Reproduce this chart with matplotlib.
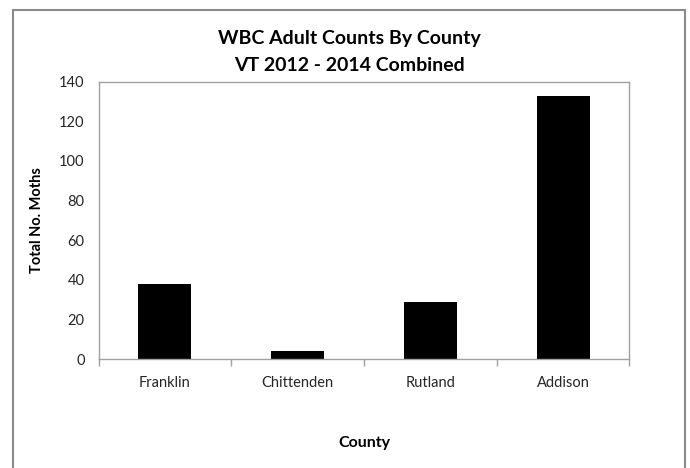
import matplotlib.pyplot as plt
from matplotlib.patches import Rectangle

counties = ['Franklin', 'Chittenden', 'Rutland', 'Addison']
moths = [38, 4, 29, 133]
y_ticks = [0, 20, 40, 60, 80, 100, 120, 140]

plt.rcParams['font.family'] = ['Lato', 'DejaVu Sans']

fig = plt.figure(figsize=(6.9, 4.68), dpi=100)
ax = fig.add_axes([0.1428, 0.2329, 0.7694, 0.5925])

x = range(len(counties))
ax.bar(x, moths, width=0.4, color='black')

ax.set_xlim(-0.5, len(counties) - 0.5)
ax.set_ylim(0, 140)
ax.set_yticks(y_ticks)
ax.set_xticks(list(x))
ax.set_xticklabels(counties, fontsize=10.5, color='#262626')
ax.set_xticks([i + 0.5 for i in range(-1, len(counties))], minor=True)
ax.tick_params(axis='x', which='major', length=0, pad=12)
ax.tick_params(axis='x', which='minor', length=5, color='#a0a0a0', width=1)
ax.tick_params(axis='y', length=0, pad=10, labelsize=10.5, labelcolor='#262626')

for s in ax.spines.values():
    s.set_color('#a0a0a0')
    s.set_linewidth(1)

ax.set_ylabel('Total No. Moths', fontsize=10.5, fontweight='bold', labelpad=11)
ax.set_xlabel('County', fontsize=11.5, fontweight='bold', labelpad=33)

fig.text(0.506, 0.918, 'WBC Adult Counts By County', ha='center', va='center',
         fontsize=14, fontweight='bold')
fig.text(0.506, 0.861, 'VT 2012 - 2014 Combined', ha='center', va='center',
         fontsize=14, fontweight='bold')

# outer chart border
fig.patches.append(Rectangle((13 / 690, -0.1), (685 - 13) / 690, 1.1 - 10 / 468,
                             transform=fig.transFigure, fill=False,
                             edgecolor='#8a8a8a', linewidth=1.5))

fig.savefig('out.png', dpi=100)
